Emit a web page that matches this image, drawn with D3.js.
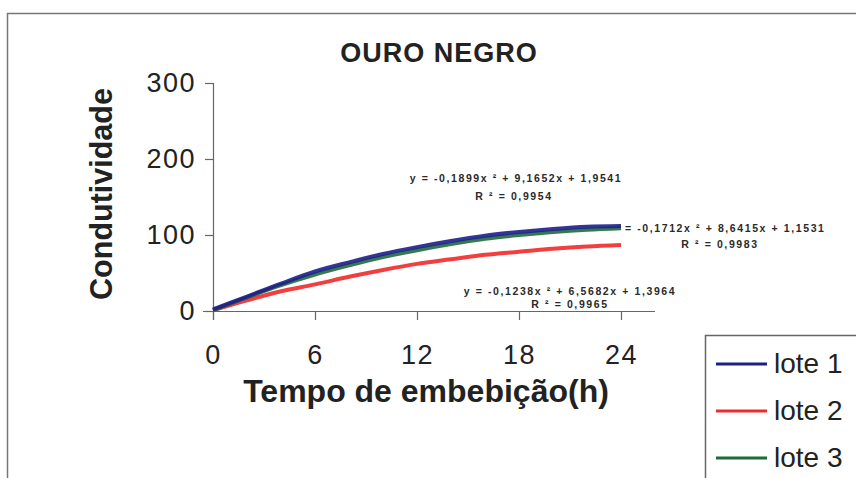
<!DOCTYPE html>
<html>
<head>
<meta charset="utf-8">
<script src="https://cdn.jsdelivr.net/npm/d3@7"></script>
<style>
  body { margin: 0; background: #fff; }
  svg { font-family: Arial, "Liberation Sans", sans-serif; }
</style>
</head>
<body>
<div id="chart"></div>
<script>
// data
var hours = [0, 2, 4, 6, 8, 10, 12, 14, 16, 18, 20, 22, 24];
var lote1 = [2, 19, 36, 52, 64, 75, 84, 92, 99, 104, 108, 111, 112];
var lote2 = [1, 14, 26, 35, 45, 54, 62, 68, 74, 78, 82, 85, 87];
var lote3 = [1, 18, 34, 48, 60, 71, 80, 88, 95, 100, 104, 107, 109];
var seriesNames = ["lote 1", "lote 2", "lote 3"];
var xTicks = [0, 6, 12, 18, 24];
var yTicks = [0, 100, 200, 300];
var equations = [
  ["y = -0,1899x ² + 9,1652x + 1,9541", "R ² = 0,9954"],
  ["y = -0,1238x ² + 6,5682x + 1,3964", "R ² = 0,9965"],
  ["= -0,1712x ² + 8,6415x + 1,1531", "R ² = 0,9983"]
];

var svgWidth = 856, svgHeight = 478;
var margin = { top: 83, left: 213 };
var chartWidth = 442, chartHeight = 228;

var colors = ["#1c1f8a", "#f02a2a", "#1f6b3c"];

var svg = d3.select("#chart").append("svg")
  .attr("width", svgWidth)
  .attr("height", svgHeight);

// outer frame
svg.append("path")
  .attr("d", "M7.5,478 V13.5 H856")
  .attr("fill", "none")
  .attr("stroke", "#777")
  .attr("stroke-width", 1.5);

var chartGroup = svg.append("g")
  .attr("transform", `translate(${margin.left}, ${margin.top})`);

var x = d3.scaleLinear().domain([0, 26]).range([0, chartWidth]);
var y = d3.scaleLinear().domain([0, 300]).range([chartHeight, 0]);

// axes
var bottomAxis = d3.axisBottom(x).tickValues(xTicks).tickSize(9).tickPadding(25);
var leftAxis = d3.axisLeft(y).tickValues(yTicks).tickSize(8).tickPadding(9);

var gx = chartGroup.append("g")
  .attr("transform", `translate(0, ${chartHeight})`)
  .call(bottomAxis);
gx.select(".domain").attr("d", `M-10,0.5H${chartWidth}`);

var gy = chartGroup.append("g").call(leftAxis);
gy.select(".domain").attr("d", `M0.5,0V${chartHeight + 9}`);

chartGroup.selectAll(".domain, .tick line")
  .attr("stroke", "#666")
  .attr("stroke-width", 1.2);
chartGroup.selectAll(".tick text")
  .attr("font-size", 27)
  .attr("letter-spacing", 1.5)
  .attr("fill", "#222")
  .attr("font-family", "Arial, 'Liberation Sans', sans-serif");

// series
var line = d3.line()
  .x((d, i) => x(hours[i]))
  .y(d => y(d))
  .curve(d3.curveMonotoneX);

[[lote2, 1], [lote3, 2], [lote1, 0]].forEach(function(s) {
  chartGroup.append("path")
    .datum(s[0])
    .attr("d", line)
    .attr("fill", "none")
    .attr("stroke", colors[s[1]])
    .attr("stroke-width", 4)
    .attr("opacity", 0.9);
});

// title and axis labels
svg.append("text")
  .attr("x", 439).attr("y", 62)
  .attr("text-anchor", "middle")
  .attr("font-size", 27).attr("font-weight", "bold")
  .attr("letter-spacing", 1)
  .attr("fill", "#222")
  .text("OURO NEGRO");

svg.append("text")
  .attr("transform", "translate(112, 194) rotate(-90)")
  .attr("text-anchor", "middle")
  .attr("font-size", 30.5).attr("font-weight", "bold")
  .attr("fill", "#222")
  .text("Condutividade");

svg.append("text")
  .attr("x", 426).attr("y", 402)
  .attr("text-anchor", "middle")
  .attr("font-size", 32).attr("font-weight", "bold")
  .attr("fill", "#222")
  .text("Tempo de embebição(h)");

// trendline equations
var eqPos = [[516, 182, 514, 200, "middle"], [570, 295, 570, 308, "middle"], [625, 232, 720, 248, "start"]];
equations.forEach(function(eq, i) {
  var p = eqPos[i];
  svg.append("text")
    .attr("x", p[0]).attr("y", p[1])
    .attr("text-anchor", p[4])
    .attr("font-size", 10.5).attr("font-weight", "bold")
    .attr("letter-spacing", 1.6)
    .attr("fill", "#2a2a2a")
    .text(eq[0]);
  svg.append("text")
    .attr("x", p[2]).attr("y", p[3])
    .attr("text-anchor", "middle")
    .attr("font-size", 10.5).attr("font-weight", "bold")
    .attr("letter-spacing", 1.6)
    .attr("fill", "#2a2a2a")
    .text(eq[1]);
});

// legend
var legend = svg.append("g");
legend.append("rect")
  .attr("x", 705.5).attr("y", 335.5)
  .attr("width", 160).attr("height", 160)
  .attr("fill", "#fff")
  .attr("stroke", "#666")
  .attr("stroke-width", 1.5);

seriesNames.forEach(function(name, i) {
  var ly = 364 + i * 47;
  legend.append("line")
    .attr("x1", 716).attr("x2", 767)
    .attr("y1", ly).attr("y2", ly)
    .attr("stroke", colors[i])
    .attr("stroke-width", 3);
  legend.append("text")
    .attr("x", 774).attr("y", ly + 9)
    .attr("font-size", 28)
    .attr("fill", "#222")
    .text(name);
});
</script>
</body>
</html>
